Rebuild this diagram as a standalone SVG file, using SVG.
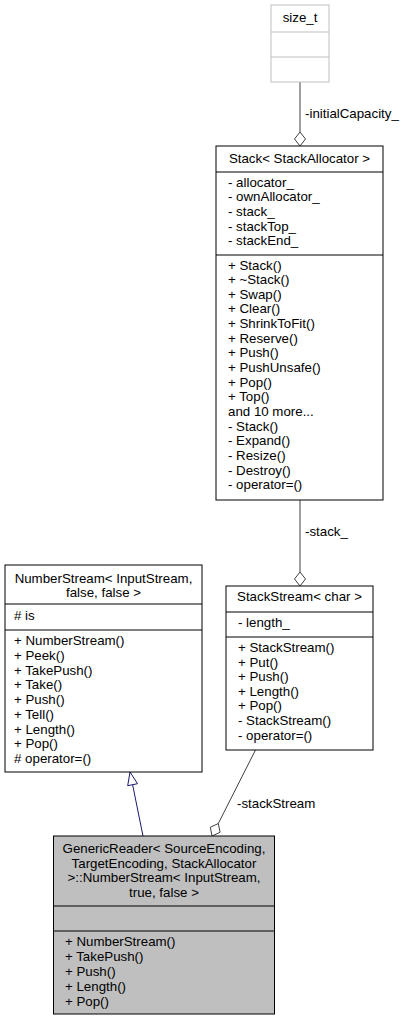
<svg xmlns="http://www.w3.org/2000/svg" width="403" height="1021" viewBox="0 0 403 1021">
<style>
text{font-family:"Liberation Sans",Arial,Helvetica,sans-serif;font-size:13.3px;fill:#000}
.c{text-anchor:middle}
.box{fill:#fff;stroke:#000;stroke-width:1}
.gbox{fill:#fff;stroke:#bfbfbf;stroke-width:1}
.sel{fill:#bfbfbf;stroke:#000;stroke-width:1}
.div{stroke:#000;stroke-width:1}
.gdiv{stroke:#bfbfbf;stroke-width:1}
.use{fill:none;stroke:#404040;stroke-width:1}
.usehead{fill:#fff;stroke:#404040;stroke-width:1}
.inh{fill:none;stroke:#191970;stroke-width:1}
.inhhead{fill:#fff;stroke:#191970;stroke-width:1}
</style>
<rect width="403" height="1021" fill="#fff"/>
<g id="connectors">
<line class="use" x1="300" y1="82" x2="300" y2="132"/>
<polygon class="usehead" points="300,146 305.5,139 300,132 294.5,139"/>
<text x="305" y="118">-initialCapacity_</text>
<line class="use" x1="300" y1="500" x2="300" y2="572"/>
<polygon class="usehead" points="300,586 305.5,579 300,572 294.5,579"/>
<text x="305" y="536">-stack_</text>
<line class="use" x1="255.5" y1="750" x2="218.3" y2="823.5"/>
<polygon class="usehead" points="212,836 220.1,832.3 218.3,823.5 210.3,827.3"/>
<text x="237" y="808">-stackStream</text>
<line class="inh" x1="143" y1="836" x2="132.6" y2="784.7"/>
<polygon class="inhhead" points="130,772 137.5,783.7 127.7,785.7"/>
</g>
<g id="node-size_t">
<rect class="gbox" x="271" y="5" width="58" height="77"/>
<line class="gdiv" x1="271" y1="32" x2="329" y2="32"/>
<line class="gdiv" x1="271" y1="57" x2="329" y2="57"/>
<text class="c" x="300" y="22">size_t</text>
</g>
<g id="node-stack">
<rect class="box" x="216" y="146" width="167" height="354"/>
<line class="div" x1="216" y1="172" x2="383" y2="172"/>
<line class="div" x1="216" y1="255" x2="383" y2="255"/>
<text class="c" x="299.5" y="163">Stack&lt; StackAllocator &gt;</text>
<text x="228" y="186.5">- allocator_</text>
<text x="228" y="201.2">- ownAllocator_</text>
<text x="228" y="215.9">- stack_</text>
<text x="228" y="230.6">- stackTop_</text>
<text x="228" y="245.3">- stackEnd_</text>
<text x="228" y="269.5">+ Stack()</text>
<text x="228" y="284.15">+ ~Stack()</text>
<text x="228" y="298.8">+ Swap()</text>
<text x="228" y="313.45">+ Clear()</text>
<text x="228" y="328.1">+ ShrinkToFit()</text>
<text x="228" y="342.75">+ Reserve()</text>
<text x="228" y="357.4">+ Push()</text>
<text x="228" y="372.05">+ PushUnsafe()</text>
<text x="228" y="386.7">+ Pop()</text>
<text x="228" y="401.35">+ Top()</text>
<text x="228" y="416">and 10 more...</text>
<text x="228" y="430.65">- Stack()</text>
<text x="228" y="445.3">- Expand()</text>
<text x="228" y="459.95">- Resize()</text>
<text x="228" y="474.6">- Destroy()</text>
<text x="228" y="489.25">- operator=()</text>
</g>
<g id="node-numberstream">
<rect class="box" x="5" y="565" width="197" height="207"/>
<line class="div" x1="5" y1="604" x2="202" y2="604"/>
<line class="div" x1="5" y1="630" x2="202" y2="630"/>
<text class="c" x="103.5" y="583">NumberStream&lt; InputStream,</text>
<text class="c" x="103.5" y="597">false, false &gt;</text>
<text x="14" y="620"># is</text>
<text x="14" y="645">+ NumberStream()</text>
<text x="14" y="659.75">+ Peek()</text>
<text x="14" y="674.5">+ TakePush()</text>
<text x="14" y="689.25">+ Take()</text>
<text x="14" y="704">+ Push()</text>
<text x="14" y="718.75">+ Tell()</text>
<text x="14" y="733.5">+ Length()</text>
<text x="14" y="748.25">+ Pop()</text>
<text x="14" y="763"># operator=()</text>
</g>
<g id="node-stackstream">
<rect class="box" x="226" y="586" width="147" height="164"/>
<line class="div" x1="226" y1="612" x2="373" y2="612"/>
<line class="div" x1="226" y1="637" x2="373" y2="637"/>
<text class="c" x="299.5" y="601">StackStream&lt; char &gt;</text>
<text x="238" y="627">- length_</text>
<text x="238" y="652">+ StackStream()</text>
<text x="238" y="666.6">+ Put()</text>
<text x="238" y="681.2">+ Push()</text>
<text x="238" y="695.8">+ Length()</text>
<text x="238" y="710.4">+ Pop()</text>
<text x="238" y="725">- StackStream()</text>
<text x="238" y="739.6">- operator=()</text>
</g>
<g id="node-genericreader">
<rect class="sel" x="53.5" y="836" width="221" height="178"/>
<line class="div" x1="53.5" y1="906" x2="274.5" y2="906"/>
<line class="div" x1="53.5" y1="931" x2="274.5" y2="931"/>
<text class="c" x="164" y="853">GenericReader&lt; SourceEncoding,</text>
<text class="c" x="164" y="867.7">TargetEncoding, StackAllocator</text>
<text class="c" x="164" y="882.4">&gt;::NumberStream&lt; InputStream,</text>
<text class="c" x="164" y="897.1">true, false &gt;</text>
<text x="65" y="946">+ NumberStream()</text>
<text x="65" y="961">+ TakePush()</text>
<text x="65" y="976">+ Push()</text>
<text x="65" y="991">+ Length()</text>
<text x="65" y="1006">+ Pop()</text>
</g>
</svg>
